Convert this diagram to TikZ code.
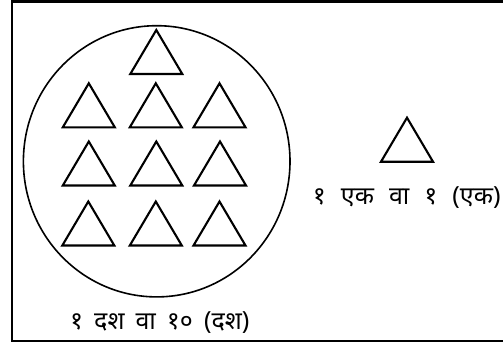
\documentclass[tikz,border=0pt]{standalone}
\usepackage{fontspec}
\newfontfamily\deva[Script=Devanagari,WordSpace=1.7]{Noto Sans}
\begin{document}
\begin{tikzpicture}[x=1pt,y=-1pt,
  tri/.style={line width=2.1pt,line join=miter},
  lbl/.style={inner sep=0pt,anchor=west,font=\deva\fontsize{25}{28}\selectfont}]
\useasboundingbox (0,0) rectangle (503,345);
\clip (0,0) rectangle (503,345);
\fill[white] (0,0) rectangle (503,345);
% frame
\draw[line width=2.6pt] (520,1.3) -- (11.8,1.3) -- (11.8,341) -- (520,341);
% circle
\draw[line width=1.6pt] (156.7,161.3) ellipse [x radius=133.3, y radius=135.6];
% triangles
\foreach \x/\b in {156.3/74,
  88.8/127.3, 155.8/127.3, 219.5/127.3,
  88.8/185.5, 156.3/185.5, 220/185.5,
  88.3/245.5, 155.8/245.5, 219.5/245.5,
  407/161.7}
  \draw[tri] (\x-26,\b) -- (\x,\b-44) -- (\x+26,\b) -- cycle;
% labels
\node[lbl] (ten) at (70,323) {१ दश वा १० (दश)};
\node[lbl] (one) at (312.7,197.5) {१\hspace{4pt} एक\hspace{4pt} वा\hspace{4pt} १\hspace{4pt} (एक)};
\end{tikzpicture}
\end{document}
